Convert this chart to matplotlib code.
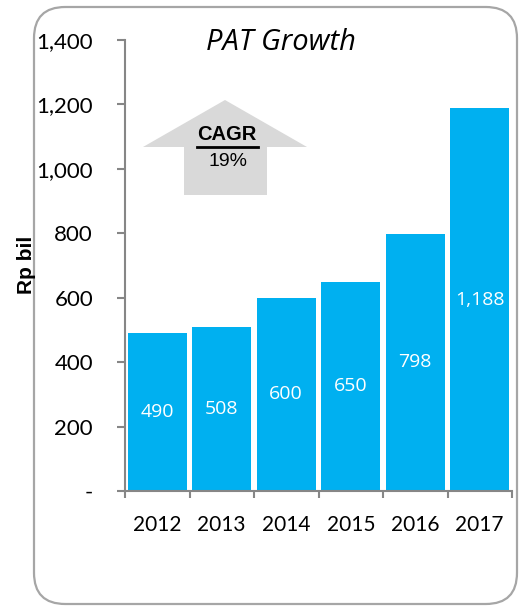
import matplotlib
matplotlib.use("Agg")
import matplotlib.pyplot as plt
from matplotlib.patches import FancyBboxPatch, Polygon
from matplotlib.ticker import FuncFormatter

years = ["2012", "2013", "2014", "2015", "2016", "2017"]
pat = [490, 508, 600, 650, 798, 1188]
value_labels = ["490", "508", "600", "650", "798", "1,188"]
yticks = [0, 200, 400, 600, 800, 1000, 1200, 1400]
title = "PAT Growth"
ylabel = "Rp bil"
cagr_title = "CAGR"
cagr_value = "19%"

W, H = 521, 608
fig = plt.figure(figsize=(W / 100, H / 100), dpi=100)

# rounded frame
frame = FancyBboxPatch((34 / W, 1 - 604 / H), (517 - 34) / W, (604 - 7) / H,
                       boxstyle="round,pad=0,rounding_size=0.06",
                       transform=fig.transFigure, facecolor="white",
                       edgecolor="#a6a6a6", linewidth=1.6, mutation_aspect=W / H,
                       zorder=-5)
fig.patches.append(frame)

ax = fig.add_axes([125 / W, 1 - 491 / H, (512 - 125) / W, (491 - 40) / H])
ax.set_zorder(2)
ax.set_facecolor("none")
x = list(range(len(years)))
ax.bar(x, pat, width=0.91, color="#00B0F0", zorder=2)
ax.set_xlim(-0.5, len(years) - 0.5)
ax.set_ylim(0, 1400)
ax.set_yticks(yticks)
ax.yaxis.set_major_formatter(FuncFormatter(lambda v, p: "-" if v == 0 else f"{int(v):,}"))
ax.set_xticks(x)
ax.set_xticklabels(years)
ax.set_xticks([i - 0.5 for i in range(len(years) + 1)], minor=True)
ax.tick_params(axis="x", which="major", length=0, pad=17, labelsize=15)
ax.tick_params(axis="x", which="minor", length=5, width=1.5, color="#868686", direction="out")
ax.tick_params(axis="y", length=6, width=1.5, color="#868686", pad=17, labelsize=16)
for lbl in ax.get_xticklabels() + ax.get_yticklabels():
    lbl.set_fontfamily("Lato")
for s in ["top", "right"]:
    ax.spines[s].set_visible(False)
for s in ["left", "bottom"]:
    ax.spines[s].set_color("#868686")
    ax.spines[s].set_linewidth(1.5)

for i, (v, t) in enumerate(zip(pat, value_labels)):
    ax.text(i, v / 2, t, ha="center", va="center", color="white",
            fontsize=14, fontfamily="Open Sans", zorder=3)

fig.text(281 / W, 1 - 42 / H, title, ha="center", va="center", fontsize=21,
         style="italic", fontfamily="Open Sans")
fig.text(26 / W, 1 - 265 / H, ylabel, ha="center", va="center", rotation=90,
         fontsize=15, fontweight="bold", fontfamily="Liberation Sans")

# CAGR arrow
arrow_px = [(225, 100), (307, 147), (267, 147), (267, 195), (184, 195), (184, 147), (143, 147)]
arrow = Polygon([(px / W, 1 - py / H) for px, py in arrow_px], closed=True,
                transform=fig.transFigure, facecolor="#d9d9d9", edgecolor="none", zorder=1)
fig.patches.append(arrow)
fig.text(227 / W, 1 - 135 / H, cagr_title, ha="center", va="center", fontsize=14.5,
         fontweight="bold", fontfamily="Liberation Sans")
fig.add_artist(plt.Line2D([197 / W, 258 / W], [1 - 147 / H, 1 - 147 / H],
                          transform=fig.transFigure, color="black", linewidth=2))
fig.text(228 / W, 1 - 162 / H, cagr_value, ha="center", va="center", fontsize=14,
         fontfamily="Liberation Sans")

fig.savefig("out.png", dpi=100)
